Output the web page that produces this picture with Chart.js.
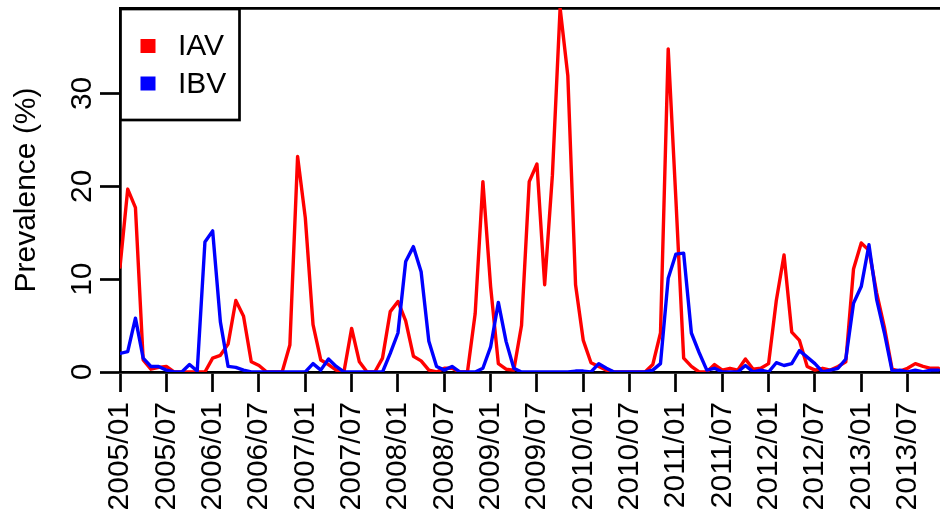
<!DOCTYPE html>
<html>
<head>
<meta charset="utf-8">
<title>Prevalence</title>
<script src="https://cdn.jsdelivr.net/npm/chart.js@4.4.1/dist/chart.umd.min.js"></script>
<style>
  html, body { margin: 0; padding: 0; background: #fff; }
  #wrap { width: 940px; height: 520px; }
</style>
</head>
<body>
<div id="wrap"><canvas id="prevalenceChart" width="940" height="520"></canvas></div>
<script>
// monthly values, 2005/01 .. 2013/11
const iavData = [
  11.3, 19.7, 17.7, 1.3, 0.3, 0.5, 0.6, 0, 0, 0, 0, 0,
  1.5, 1.8, 3.0, 7.7, 6.0, 1.1, 0.7, 0, 0, 0, 2.9, 23.2,
  16.6, 5.1, 1.3, 0.8, 0.2, 0, 4.7, 1.1, 0, 0, 1.5, 6.5,
  7.6, 5.5, 1.7, 1.2, 0.2, 0, 0.4, 0.4, 0, 0, 6.3, 20.5,
  9.2, 0.9, 0.3, 0.2, 5.0, 20.5, 22.4, 9.4, 21.2, 39.2, 31.9, 9.4,
  3.4, 1.0, 0.6, 0.2, 0, 0, 0, 0, 0, 0.8, 4.2, 34.8,
  18.5, 1.5, 0.6, 0, 0, 0.8, 0.2, 0.4, 0.2, 1.4, 0.3, 0.4,
  0.9, 7.7, 12.6, 4.3, 3.4, 0.6, 0.2, 0.4, 0.2, 0.6, 1.1, 11.1,
  13.9, 13.1, 8.5, 4.8, 0.3, 0.1, 0.4, 0.9, 0.6, 0.4, 0.4,
];
const ibvData = [
  2.0, 2.2, 5.8, 1.5, 0.6, 0.6, 0.2, 0, 0, 0.8, 0.1, 14.0,
  15.2, 5.4, 0.6, 0.5, 0.2, 0, 0, 0, 0, 0, 0, 0,
  0, 0.9, 0.2, 1.4, 0.6, 0, 0, 0, 0, 0, 0, 2.0,
  4.2, 11.9, 13.5, 10.8, 3.3, 0.6, 0.2, 0.6, 0, 0, 0, 0.4,
  2.7, 7.5, 3.3, 0.4, 0, 0, 0, 0, 0, 0, 0, 0.1,
  0.1, 0, 0.9, 0.4, 0, 0, 0, 0, 0, 0.2, 0.9, 10.1,
  12.7, 12.8, 4.2, 2.1, 0.2, 0.4, 0, 0, 0, 0.7, 0, 0.2,
  0, 1.0, 0.7, 0.9, 2.3, 1.6, 0.9, 0, 0.2, 0.4, 1.4, 7.4,
  9.2, 13.7, 7.8, 4.2, 0.1, 0.2, 0, 0.2, 0, 0.2, 0.2,
];
const seriesLabels = ["IAV", "IBV"];
const seriesColors = ["#ff0000", "#0000ff"];
// one label every 6 months
const tickLabels = [
  "2005/01", "2005/07", "2006/01", "2006/07", "2007/01", "2007/07",
  "2008/01", "2008/07", "2009/01", "2009/07", "2010/01", "2010/07",
  "2011/01", "2011/07", "2012/01", "2012/07", "2013/01", "2013/07",
];
const yTicks = [0, 10, 20, 30];

const FONT = "'Liberation Sans', Arial, Helvetica, sans-serif";
const INK = "#000";
const AXIS_W = 2.7;

// legend box in the top-left corner of the plot
const boxLegend = {
  id: "boxLegend",
  afterDatasetsDraw(chart) {
    const { ctx, chartArea } = chart;
    const x0 = chartArea.left + 0.5;
    const y0 = chartArea.top + 1;
    ctx.save();
    ctx.fillStyle = "#fff";
    ctx.fillRect(x0, y0, 119, 111);
    ctx.strokeStyle = INK;
    ctx.lineWidth = AXIS_W;
    ctx.strokeRect(x0, y0, 119, 111);
    ctx.font = "30px " + FONT;
    ctx.textBaseline = "middle";
    chart.data.datasets.forEach((ds, i) => {
      const cy = y0 + 37 + i * 37.5;
      ctx.fillStyle = ds.borderColor;
      ctx.fillRect(x0 + 20, cy - 7, 15, 14);
      ctx.fillStyle = INK;
      ctx.fillText(ds.label, x0 + 57.5, cy + 1);
    });
    ctx.restore();
  },
};

// keep the plot box fixed: no extra room for overhanging labels
const noPad = (scale) => {
  scale.paddingTop = 0;
  scale.paddingBottom = 0;
  scale.paddingLeft = 0;
  scale.paddingRight = 0;
};

const prevalenceChart = document.querySelector("#prevalenceChart");
if (prevalenceChart) {
  const ctx = prevalenceChart.getContext("2d");

  new Chart(ctx, {
    type: "line",
    data: {
      datasets: [
        {
          label: seriesLabels[0],
          data: iavData.map((v, i) => ({ x: i, y: v })),
          borderColor: seriesColors[0],
          borderWidth: 3.4,
          pointRadius: 0,
          tension: 0,
          fill: false,
          order: 1,
          borderJoinStyle: "round",
          borderCapStyle: "round",
        },
        {
          label: seriesLabels[1],
          data: ibvData.map((v, i) => ({ x: i, y: v })),
          borderColor: seriesColors[1],
          borderWidth: 3.4,
          pointRadius: 0,
          tension: 0,
          fill: false,
          order: 0,
          borderJoinStyle: "round",
          borderCapStyle: "round",
        },
      ],
    },
    options: {
      responsive: false,
      animation: false,
      layout: { padding: 0 },
      plugins: {
        legend: { display: false },
        tooltip: { enabled: false },
      },
      scales: {
        x: {
          type: "linear",
          position: "bottom",
          min: 0,
          max: 106.2,
          afterFit: (scale) => {
            scale.height = 148;
            noPad(scale);
          },
          ticks: {
            stepSize: 6,
            includeBounds: false,
            autoSkip: false,
            minRotation: 90,
            maxRotation: 90,
            padding: 10,
            color: INK,
            font: { family: FONT, size: 30 },
            callback: (value) => (value % 6 === 0 ? tickLabels[value / 6] : ""),
          },
          grid: {
            drawOnChartArea: false,
            drawTicks: true,
            tickLength: 20,
            tickWidth: AXIS_W,
            tickColor: INK,
          },
          border: { color: INK, width: AXIS_W },
        },
        top: {
          type: "linear",
          position: "top",
          min: 0,
          max: 1,
          afterFit: (scale) => {
            scale.height = 8;
            noPad(scale);
          },
          ticks: { display: false },
          grid: { display: false },
          border: { color: INK, width: AXIS_W },
        },
        y: {
          min: 0,
          max: 39.2,
          afterFit: (scale) => {
            scale.width = 120;
            noPad(scale);
          },
          afterBuildTicks: (scale) => {
            scale.ticks = yTicks.map((v) => ({ value: v }));
          },
          ticks: {
            minRotation: 90,
            crossAlign: "center",
            padding: 1,
            color: INK,
            font: { family: FONT, size: 30 },
          },
          title: {
            display: true,
            text: "Prevalence (%)",
            color: INK,
            font: { family: FONT, size: 30 },
            padding: { top: 9, bottom: 0 },
          },
          grid: {
            drawOnChartArea: false,
            drawTicks: true,
            tickLength: 20,
            tickWidth: AXIS_W,
            tickColor: INK,
          },
          border: { color: INK, width: AXIS_W },
        },
      },
    },
    plugins: [boxLegend],
  });
}
</script>
</body>
</html>
